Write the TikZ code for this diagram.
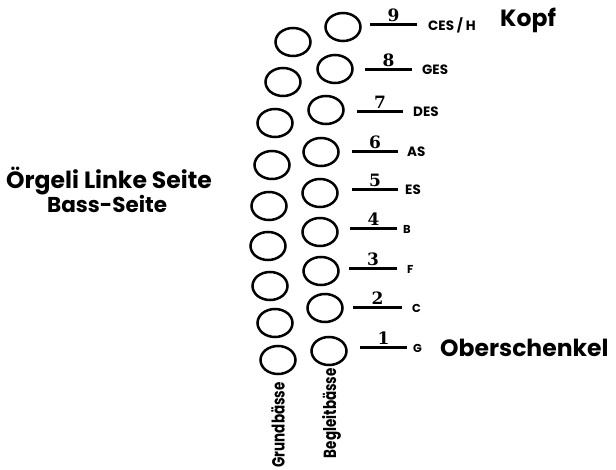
\documentclass[tikz,border=0pt]{standalone}
\usepackage{fontspec}
\usepackage{graphicx}
\usetikzlibrary{shapes.geometric,calc}
\setmainfont{Poppins}
\newfontfamily\numfont{DejaVu Serif}
\begin{document}
\begin{tikzpicture}[x=1pt,y=-1pt,
  knob/.style={draw=black,line width=2.5pt,ellipse,minimum width=35pt,minimum height=28pt,inner sep=0pt},
  tone/.style={font=\bfseries\fontsize{13.5}{14}\selectfont,anchor=west,inner sep=0pt},
  ltone/.style={font=\bfseries\fontsize{11.5}{12}\selectfont,anchor=west,inner sep=0pt},
  num/.style={font=\numfont\bfseries\fontsize{17}{17}\selectfont,anchor=south,inner sep=0pt},
  bar/.style={line width=3pt},
  big/.style={font=\bfseries\fontsize{23.5}{24}\selectfont,inner sep=0pt},
  vlab/.style={font=\bfseries\fontsize{13.5}{14}\selectfont,rotate=90,anchor=east,inner sep=0pt}]
\useasboundingbox (0,0) rectangle (616,470);
% Grundbaesse column
\foreach \i/\x/\y in {9/293/42,8/283/82,7/275/123,6/272/165,5/269/206,4/268/246,3/270/286,2/275/323,1/278/360}
  \node[knob] (g\i) at (\x,\y) {};
% Begleitbaesse column
\foreach \i/\x/\y/\la/\lb/\ly/\t/\tx/\st in {
  9/343/27/370/417/25/{CES / H}/428/tone,
  8/335/69/365/412/70/GES/422/tone,
  7/326/110/357/403/112/DES/413/tone,
  6/321/152/352/398/152/AS/407/tone,
  5/320/193/352/398/190/ES/405/tone,
  4/320/232/350/397/229/B/403/ltone,
  3/321/271/349/397/269/F/407/ltone,
  2/325/308/353/402/308/C/412/ltone,
  1/329/351/360/407/348/G/413/ltone}{
  \node[knob] (b\i) at (\x,\y) {};
  \coordinate (l\i a) at (\la,\ly);
  \coordinate (l\i b) at (\lb,\ly);
  \draw[bar] (l\i a) -- (l\i b);
  \node[num] (n\i) at ($(l\i a)!0.5!(l\i b)+(0,-3)$) {\i};
  \node[\st] (t\i) at (\tx,\ly) {\t};
}
\node[big,anchor=west] (kopf) at (500,20) {Kopf};
\node[big,anchor=west] (ober) at (440,348) {Oberschenkel};
\node[big,anchor=west] (title1) at (6,181) {Örgeli Linke Seite};
\node[big,anchor=west,font=\bfseries\fontsize{21.5}{22}\selectfont] (title2) at (47,204) {Bass-Seite};
\node[vlab] (gb) at (278,382) {\scalebox{1}[1.3]{Grundbässe}};
\node[vlab] (bb) at (331.5,368) {\scalebox{1}[1.3]{Begleitbässe}};
\end{tikzpicture}
\end{document}
